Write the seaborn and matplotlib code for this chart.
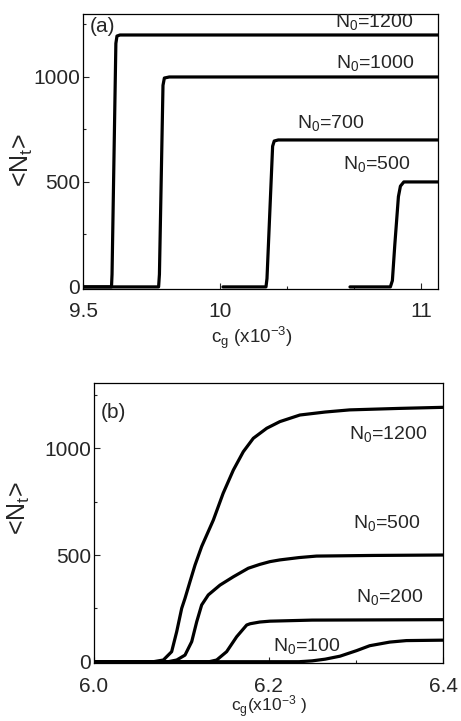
import numpy as np
import matplotlib
matplotlib.use("Agg")
import matplotlib.pyplot as plt
import seaborn as sns

# ---- panel (a): c_g (x10^-3) vs <N_t>, sharp transitions ----
a_x_1200 = [9.45, 9.604, 9.606, 9.620, 9.624, 9.635, 11.1]
a_y_1200 = [0, 0, 60, 1160, 1195, 1200, 1200]
a_x_1000 = [9.45, 9.776, 9.779, 9.792, 9.797, 9.815, 11.1]
a_y_1000 = [0, 0, 60, 960, 995, 1000, 1000]
a_x_700 = [10.015, 10.229, 10.234, 10.262, 10.270, 10.29, 11.1]
a_y_700 = [0, 0, 40, 670, 695, 700, 700]
a_x_500 = [10.647, 10.848, 10.858, 10.87, 10.888, 10.898, 10.915, 11.1]
a_y_500 = [0, 0, 30, 200, 430, 480, 500, 500]

a_labels = ["N$_\\mathregular{0}$=1200", "N$_\\mathregular{0}$=1000",
            "N$_\\mathregular{0}$=700", "N$_\\mathregular{0}$=500"]
a_label_x = [10.769, 10.774, 10.550, 10.779]
a_label_y = [1262, 1067, 781, 586]

# ---- panel (b): smooth transitions ----
b_x_1200 = [6.0, 6.068, 6.0795, 6.089, 6.0948, 6.1005, 6.1043, 6.11, 6.1158,
            6.1234, 6.1368, 6.148, 6.1597, 6.1711, 6.1826, 6.198, 6.213,
            6.236, 6.265, 6.293, 6.35, 6.4]
b_y_1200 = [0, 0, 8, 47, 141, 250, 297, 375, 453, 540, 664, 789, 898, 984,
            1047, 1094, 1125, 1156, 1170, 1180, 1187, 1192]
b_x_500 = [6.0, 6.085, 6.0948, 6.1043, 6.112, 6.1177, 6.1234, 6.131, 6.1444,
           6.1597, 6.1768, 6.19, 6.2017, 6.213, 6.235, 6.255, 6.32, 6.4]
b_y_500 = [0, 0, 8, 31, 94, 187, 266, 313, 359, 398, 438, 456, 469, 477,
           488, 495, 498, 500]
b_x_200 = [6.0, 6.132, 6.1406, 6.152, 6.1635, 6.175, 6.179, 6.19, 6.2017,
           6.25, 6.4]
b_y_200 = [0, 0, 8, 47, 117, 172, 178, 186, 190, 195, 197]
b_x_100 = [6.0, 6.235, 6.25, 6.265, 6.282, 6.301, 6.316, 6.339, 6.358, 6.4]
b_y_100 = [0, 0, 4, 12, 26, 52, 75, 92, 99, 101]

b_labels = ["N$_\\mathregular{0}$=1200", "N$_\\mathregular{0}$=500",
            "N$_\\mathregular{0}$=200", "N$_\\mathregular{0}$=100"]
b_label_x = [6.337, 6.3355, 6.339, 6.244]
b_label_y = [1065, 652, 301, 73]

sns.set_style("ticks")
plt.rcParams["font.family"] = ["Liberation Sans", "DejaVu Sans"]
plt.rcParams["mathtext.default"] = "regular"

fig = plt.figure(figsize=(4.61, 7.21), dpi=100)
ax_a = fig.add_axes([83 / 461, 1 - 289 / 721, 355 / 461, 275 / 721])
ax_b = fig.add_axes([94 / 461, 1 - 663 / 721, 349 / 461, 280 / 721])

LW = 2.3


# x axis of panel (a) is stretched below 10 in the original figure
def fwd(x):
    x = np.asarray(x, dtype=float)
    return np.where(x >= 10, x, 10 + (x - 10) * 274 / 201)


def inv(y):
    y = np.asarray(y, dtype=float)
    return np.where(y >= 10, y, 10 + (y - 10) * 201 / 274)


ax_a.set_xscale("function", functions=(fwd, inv))
for xs, ys in [(a_x_1200, a_y_1200), (a_x_1000, a_y_1000),
               (a_x_700, a_y_700), (a_x_500, a_y_500)]:
    sns.lineplot(x=xs, y=ys, ax=ax_a, color="black", lw=LW, sort=False, estimator=None)
for txt, tx, ty in zip(a_labels, a_label_x, a_label_y):
    ax_a.text(tx, ty, txt, ha="center", va="center", fontsize=14)

for xs, ys in [(b_x_1200, b_y_1200), (b_x_500, b_y_500),
               (b_x_200, b_y_200), (b_x_100, b_y_100)]:
    sns.lineplot(x=xs, y=ys, ax=ax_b, color="black", lw=LW, sort=False, estimator=None)
for txt, tx, ty in zip(b_labels, b_label_x, b_label_y):
    ax_b.text(tx, ty, txt, ha="center", va="center", fontsize=14)

ax_a.set_xlim(9.5, 11.085)
ax_a.set_ylim(-10, 1300)
ax_a.set_xticks([9.5, 10, 11])
ax_a.set_xticklabels(["9.5", "10", "11"])
ax_a.set_xticks([10 + 1 / 3, 10 + 2 / 3], minor=True)

ax_b.set_xlim(6.0, 6.4)
ax_b.set_ylim(-6, 1306)
ax_b.set_xticks([6.0, 6.2, 6.4])
ax_b.set_xticklabels(["6.0", "6.2", "6.4"])
ax_b.set_xticks([6.1, 6.3], minor=True)

for ax in (ax_a, ax_b):
    ax.set_yticks([0, 500, 1000])
    ax.set_yticks([250, 750, 1250], minor=True)
    ax.tick_params(which="major", direction="in", length=4, width=0.8,
                   labelsize=15, pad=2)
    ax.tick_params(which="minor", direction="in", length=2.5, width=0.8)
    for s in ax.spines.values():
        s.set_linewidth(0.9)
        s.set_color("black")

ax_a.tick_params(axis="x", which="major", pad=9)
ax_b.tick_params(axis="x", which="major", pad=10)

ax_a.set_ylabel("<N$_\\mathregular{t}$>", fontsize=18)
ax_a.yaxis.set_label_coords(-0.172, 0.469)
ax_a.yaxis.label.set_va("center")
ax_a.set_xlabel("c$_\\mathregular{g}$ (x10$^\\mathregular{-3}$)", fontsize=13.5)
ax_a.xaxis.set_label_coords(0.476, -0.178)
ax_a.xaxis.label.set_va("center")

ax_b.set_ylabel("<N$_\\mathregular{t}$>", fontsize=18)
ax_b.yaxis.set_label_coords(-0.215, 0.554)
ax_b.yaxis.label.set_va("center")
ax_b.set_xlabel("c$_\\mathregular{g}$(x10$^\\mathregular{-3}$ )", fontsize=12.5)
ax_b.xaxis.set_label_coords(0.501, -0.158)
ax_b.xaxis.label.set_va("center")

ax_a.text(0.055, 0.955, "(a)", transform=ax_a.transAxes, ha="center", va="center", fontsize=15)
ax_b.text(0.057, 0.893, "(b)", transform=ax_b.transAxes, ha="center", va="center", fontsize=15)

fig.savefig("out.png", dpi=100)
